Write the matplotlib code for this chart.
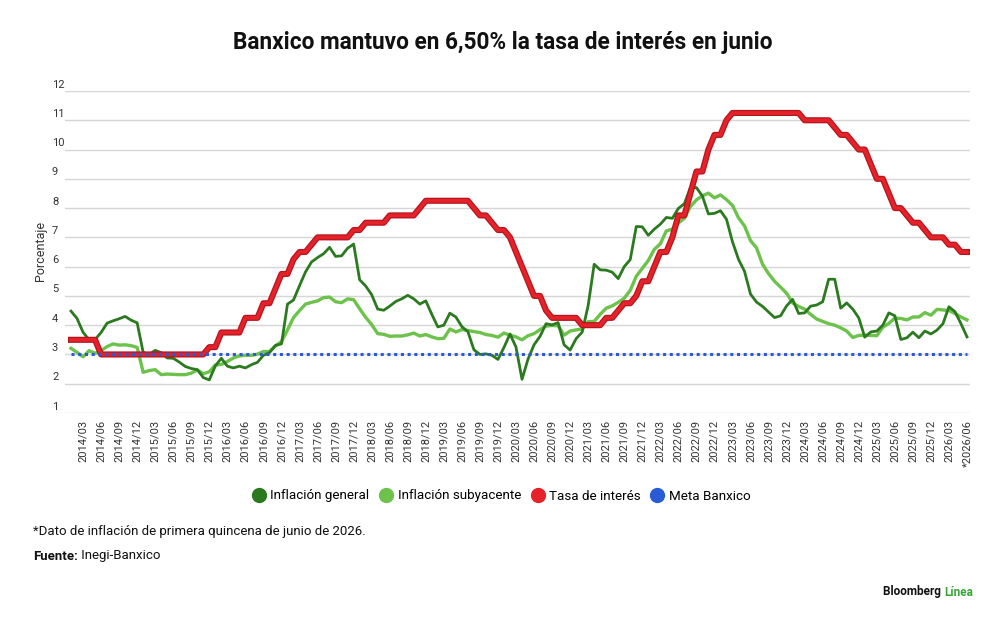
import matplotlib
matplotlib.use("Agg")
import matplotlib.pyplot as plt
import matplotlib.patheffects as pe
from matplotlib.lines import Line2D
import numpy as np

plt.rcParams['font.family'] = ['Roboto', 'DejaVu Sans']

# monthly series, 2014/01 .. 2026/06
inflacion_general = [
    4.48, 4.23, 3.76, 3.50, 3.51, 3.75, 4.07, 4.15, 4.22, 4.30, 4.17, 4.08,
    3.07, 3.00, 3.14, 3.06, 2.88, 2.87, 2.74, 2.59, 2.52, 2.48, 2.21, 2.13,
    2.61, 2.87, 2.60, 2.54, 2.60, 2.54, 2.65, 2.73, 2.97, 3.06, 3.31, 3.36,
    4.72, 4.86, 5.35, 5.82, 6.16, 6.31, 6.44, 6.66, 6.35, 6.37, 6.63, 6.77,
    5.55, 5.34, 5.04, 4.55, 4.51, 4.65, 4.81, 4.90, 5.02, 4.90, 4.72, 4.83,
    4.37, 3.94, 4.00, 4.41, 4.28, 3.95, 3.78, 3.16, 3.00, 3.02, 2.97, 2.83,
    3.24, 3.70, 3.25, 2.15, 2.84, 3.33, 3.62, 4.05, 4.01, 4.09, 3.33, 3.15,
    3.54, 3.76, 4.67, 6.08, 5.89, 5.88, 5.81, 5.59, 6.00, 6.24, 7.37, 7.36,
    7.07, 7.28, 7.45, 7.68, 7.65, 7.99, 8.15, 8.70, 8.70, 8.41, 7.80, 7.82,
    7.91, 7.62, 6.85, 6.25, 5.84, 5.06, 4.79, 4.64, 4.45, 4.26, 4.32, 4.66,
    4.88, 4.40, 4.42, 4.65, 4.69, 4.80, 5.57, 5.57, 4.58, 4.76, 4.55, 4.25,
    3.59, 3.77, 3.80, 4.00, 4.42, 4.32, 3.51, 3.57, 3.76, 3.57, 3.80, 3.70,
    3.83, 4.05, 4.63, 4.46, 4.05, 3.60,
]
inflacion_subyacente = [
    3.21, 3.07, 2.92, 3.13, 3.04, 3.13, 3.27, 3.36, 3.32, 3.33, 3.30, 3.24,
    2.39, 2.45, 2.48, 2.31, 2.33, 2.32, 2.31, 2.31, 2.36, 2.47, 2.34, 2.41,
    2.64, 2.66, 2.76, 2.88, 2.95, 2.97, 2.97, 3.01, 3.10, 3.10, 3.29, 3.44,
    3.84, 4.26, 4.50, 4.72, 4.78, 4.83, 4.94, 4.96, 4.80, 4.77, 4.90, 4.87,
    4.56, 4.27, 4.02, 3.71, 3.69, 3.62, 3.63, 3.63, 3.67, 3.73, 3.63, 3.68,
    3.60, 3.54, 3.55, 3.87, 3.77, 3.85, 3.82, 3.78, 3.75, 3.68, 3.65, 3.59,
    3.73, 3.66, 3.60, 3.50, 3.64, 3.71, 3.85, 3.97, 3.99, 3.98, 3.66, 3.80,
    3.84, 3.87, 4.12, 4.13, 4.37, 4.58, 4.66, 4.78, 4.92, 5.19, 5.67, 5.94,
    6.21, 6.59, 6.78, 7.22, 7.28, 7.49, 7.65, 8.05, 8.28, 8.42, 8.51, 8.35,
    8.45, 8.29, 8.09, 7.67, 7.39, 6.89, 6.64, 6.08, 5.76, 5.50, 5.30, 5.09,
    4.76, 4.64, 4.55, 4.37, 4.21, 4.13, 4.05, 4.00, 3.91, 3.80, 3.58, 3.65,
    3.66, 3.65, 3.64, 3.93, 4.06, 4.24, 4.23, 4.18, 4.28, 4.28, 4.43, 4.34,
    4.54, 4.52, 4.50, 4.40, 4.28, 4.18,
]
tasa_interes = [
    3.50, 3.50, 3.50, 3.50, 3.50, 3.00, 3.00, 3.00, 3.00, 3.00, 3.00, 3.00,
    3.00, 3.00, 3.00, 3.00, 3.00, 3.00, 3.00, 3.00, 3.00, 3.00, 3.00, 3.25,
    3.25, 3.75, 3.75, 3.75, 3.75, 4.25, 4.25, 4.25, 4.75, 4.75, 5.25, 5.75,
    5.75, 6.25, 6.50, 6.50, 6.75, 7.00, 7.00, 7.00, 7.00, 7.00, 7.00, 7.25,
    7.25, 7.50, 7.50, 7.50, 7.50, 7.75, 7.75, 7.75, 7.75, 7.75, 8.00, 8.25,
    8.25, 8.25, 8.25, 8.25, 8.25, 8.25, 8.25, 8.00, 7.75, 7.75, 7.50, 7.25,
    7.25, 7.00, 6.50, 6.00, 5.50, 5.00, 5.00, 4.50, 4.25, 4.25, 4.25, 4.25,
    4.25, 4.00, 4.00, 4.00, 4.00, 4.25, 4.25, 4.50, 4.75, 4.75, 5.00, 5.50,
    5.50, 6.00, 6.50, 6.50, 7.00, 7.75, 7.75, 8.50, 9.25, 9.25, 10.00, 10.50,
    10.50, 11.00, 11.25, 11.25, 11.25, 11.25, 11.25, 11.25, 11.25, 11.25, 11.25, 11.25,
    11.25, 11.25, 11.00, 11.00, 11.00, 11.00, 11.00, 10.75, 10.50, 10.50, 10.25, 10.00,
    10.00, 9.50, 9.00, 9.00, 8.50, 8.00, 8.00, 7.75, 7.50, 7.50, 7.25, 7.00,
    7.00, 7.00, 6.75, 6.75, 6.50, 6.50,
]
meta_banxico = 3.0

years = list(range(2014, 2027))
months = [f"{y}/{m:02d}" for y in years for m in range(1, 13)][:len(tasa_interes)]
tick_idx = list(range(2, len(months), 3))
tick_labels = [months[i] for i in tick_idx]
tick_labels[-1] = "*" + tick_labels[-1]
y_ticks = list(range(1, 13))

series_names = ["Inflación general", "Inflación subyacente", "Tasa de interés", "Meta Banxico"]
colours = ["#2b7a1f", "#6cc24a", "#e5222a", "#2a5bd7"]

x = np.arange(len(months))

fig = plt.figure(figsize=(10, 6.19), dpi=100)
ax = fig.add_axes([0.065, 1 - 413 / 619, 0.905, (413 - 91) / 619])

ax.plot(x, inflacion_subyacente, color=colours[1], lw=2.4, zorder=3)
ax.plot(x, inflacion_general, color=colours[0], lw=2.0, zorder=4)
ax.plot(x, tasa_interes, color=colours[2], lw=2.6, zorder=5,
        path_effects=[pe.Stroke(linewidth=4.4, foreground="#b5151d"), pe.Normal()])
ax.plot(x, [meta_banxico] * len(x), color=colours[3], lw=2.2,
        linestyle=(0, (1, 1.2)), zorder=6)

ax.set_xlim(-1.0, len(x) - 0.5)
ax.set_ylim(1, 12)
ax.set_yticks(y_ticks)
ax.set_yticklabels([])
ax.tick_params(axis="y", length=0)
ax.grid(axis="y", color="#d6d6d6", lw=1.0)
ax.set_axisbelow(True)
for s in ax.spines.values():
    s.set_visible(False)
for v in y_ticks:
    ax.text(-0.0144, v + 0.05, str(v), transform=ax.get_yaxis_transform(),
            ha="left", va="bottom", fontsize=8, color="#333333")

ax.set_xticks(tick_idx)
ax.set_xticklabels(tick_labels, rotation=90, fontsize=8, color="#333333")
ax.tick_params(axis="x", length=0, pad=5)

fig.text(0.040, 1 - 251 / 619, "Porcentaje", rotation=90, ha="center", va="center",
         fontsize=9, color="#333333")

fig.text(0.503, 1 - 42 / 619, "Banxico mantuvo en 6,50% la tasa de interés en junio",
         ha="center", va="center", fontsize=16.3, fontweight="bold", color="#111111")

handles = [Line2D([], [], marker="o", ls="none", markersize=10, color=c) for c in colours]
fig.legend(handles, series_names, loc="center", bbox_to_anchor=(0.500, 1 - 496 / 619),
           ncol=4, frameon=False, fontsize=9.6, handletextpad=0.15, columnspacing=0.55,
           handlelength=1.4)

fig.text(0.033, 1 - 531 / 619, "*Dato de inflación de primera quincena de junio de 2026.",
         ha="left", va="center", fontsize=9.5, color="#111111")
t = fig.text(0.033, 1 - 556 / 619, "Fuente:", ha="left", va="center",
             fontsize=9.5, fontweight="bold", color="#111111")
ax.annotate(" Inegi-Banxico", xy=(1, 0), xycoords=t, ha="left", va="bottom",
            fontsize=9.5, color="#111111")

tl = fig.text(0.973, 1 - 592 / 619, "Línea", ha="right", va="center",
              fontsize=8.5, fontweight="bold", color="#3aa535")
ax.annotate("Bloomberg ", xy=(0, 0), xycoords=tl, ha="right", va="bottom",
            fontsize=8.5, fontweight="bold", color="#111111")

fig.savefig("out.png", dpi=100)
